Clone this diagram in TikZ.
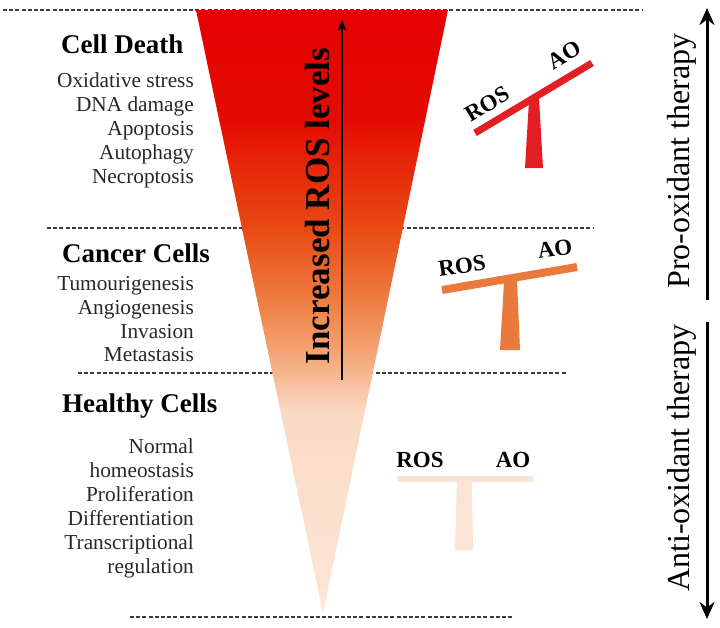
\documentclass[tikz,border=0pt]{standalone}
\usepackage{fontspec}
\setmainfont{Liberation Serif}
\usetikzlibrary{arrows.meta}
\definecolor{tri0}{RGB}{228,0,0}
\definecolor{tri1}{RGB}{228,12,2}
\definecolor{tri2}{RGB}{232,75,20}
\definecolor{tri3}{RGB}{238,125,65}
\definecolor{tri4}{RGB}{244,170,125}
\definecolor{tri5}{RGB}{251,218,196}
\definecolor{tri6}{RGB}{252,230,215}
\definecolor{sred}{RGB}{227,30,36}
\definecolor{sorange}{RGB}{233,122,60}
\definecolor{spale}{RGB}{251,228,213}
\definecolor{dashc}{RGB}{60,60,60}
\definecolor{txt}{RGB}{40,40,40}
\tikzset{
  dashline/.style={draw=dashc, line width=1.3pt, dash pattern=on 4pt off 2.2pt},
  head/.style={font=\fontsize{27}{30}\selectfont\bfseries, text=black, inner sep=0pt, anchor=base west},
  item/.style={font=\fontsize{21.3}{24}\selectfont, text=txt, inner sep=0pt, anchor=base east},
  sslabel/.style={font=\fontsize{23}{26}\selectfont\bfseries, text=black, inner sep=0pt},
  sidetext/.style={font=\fontsize{32}{34}\selectfont, text=black, inner sep=0pt, rotate=90},
  bigarrow/.style={line width=3pt, -{Stealth[length=17pt,width=15pt]}},
}
\begin{document}
\begin{tikzpicture}[x=1pt,y=-1pt]
\useasboundingbox (0,0) rectangle (720,627);
% dashed separators
\coordinate (d1a) at (3,10);   \coordinate (d1b) at (642,10);
\coordinate (d2a) at (47,228); \coordinate (d2b) at (593,228);
\coordinate (d3a) at (78,373); \coordinate (d3b) at (567,373);
\coordinate (d4a) at (130,617);\coordinate (d4b) at (513,617);
\draw[dashline] (d1a) -- (d1b);
\draw[dashline] (d2a) -- (d2b);
\draw[dashline] (d3a) -- (d3b);
\draw[dashline] (d4a) -- (d4b);
% triangle
\coordinate (tl) at (196,10);
\coordinate (tr) at (448,10);
\coordinate (ap) at (323,613);
\begin{scope}
\clip (tl) -- (tr) -- (ap) -- cycle;
\shade[top color=tri0, bottom color=tri1] (180,9) rectangle (460,120.5);
\shade[top color=tri1, bottom color=tri2] (180,120) rectangle (460,230.5);
\shade[top color=tri2, bottom color=tri3] (180,230) rectangle (460,300.5);
\shade[top color=tri3, bottom color=tri4] (180,300) rectangle (460,360.5);
\shade[top color=tri4, bottom color=tri5] (180,360) rectangle (460,412.5);
\shade[top color=tri5, bottom color=tri6] (180,412) rectangle (460,615);
\end{scope}
% increased ROS arrow and label
\coordinate (rb) at (342,380);
\coordinate (rt) at (342,20);
\draw[line width=2pt, -{Stealth[length=11pt,width=9pt]}] (rb) -- (rt);
\node[font=\fontsize{35}{38}\selectfont\bfseries, rotate=90, inner sep=0pt] (ros) at (318,206) {Increased ROS levels};
% left texts
\node[head] (cd) at (61,53) {Cell Death};
\node[item] (i1) at (194,87) {Oxidative stress};
\node[item] (i2) at (194,111) {DNA damage};
\node[item] (i3) at (194,135) {Apoptosis};
\node[item] (i4) at (194,159) {Autophagy};
\node[item] (i5) at (194,183) {Necroptosis};
\node[head] (cc) at (62,262) {Cancer Cells};
\node[item] (j1) at (194,290) {Tumourigenesis};
\node[item] (j2) at (194,314) {Angiogenesis};
\node[item] (j3) at (194,338) {Invasion};
\node[item] (j4) at (194,361) {Metastasis};
\node[head] (hc) at (62,412) {Healthy Cells};
\node[item] (k1) at (194,453) {Normal};
\node[item] (k2) at (194,477) {homeostasis};
\node[item] (k3) at (194,501) {Proliferation};
\node[item] (k4) at (194,525) {Differentiation};
\node[item] (k5) at (194,549) {Transcriptional};
\node[item] (k6) at (194,573) {regulation};
% seesaw 1 (red)
\fill[sred] (529,100) -- (539,98) -- (543,168) -- (525,168) -- cycle;
\coordinate (b1a) at (475,133); \coordinate (b1b) at (592,63);
\draw[sred, line width=7pt] (b1a) -- (b1b);
\node[sslabel, rotate=31] (r1) at (487,104) {ROS};
\node[sslabel, rotate=31] (a1) at (564,55) {AO};
% seesaw 2 (orange)
\fill[sorange] (504,282) -- (517,280) -- (520,350) -- (500,350) -- cycle;
\coordinate (b2a) at (442,290); \coordinate (b2b) at (577,267);
\draw[sorange, line width=8pt] (b2a) -- (b2b);
\node[sslabel, rotate=8] (r2) at (462,266) {ROS};
\node[sslabel, rotate=8] (a2) at (555,249) {AO};
% seesaw 3 (pale)
\fill[spale] (457,479) -- (472,479) -- (473,550) -- (455,550) -- cycle;
\coordinate (b3a) at (397,479); \coordinate (b3b) at (533,479);
\draw[spale, line width=6pt] (b3a) -- (b3b);
\node[sslabel] (r3) at (420,460) {ROS};
\node[sslabel] (a3) at (513,460) {AO};
% right side therapy arrows
\coordinate (pb) at (707,300); \coordinate (pt) at (707,8);
\coordinate (ab) at (707,322); \coordinate (at2) at (707,619);
\draw[bigarrow] (pb) -- (pt);
\draw[bigarrow] (ab) -- (at2);
\node[sidetext] (pro) at (682,161) {Pro-oxidant therapy};
\node[sidetext] (anti) at (682,458) {Anti-oxidant therapy};
\end{tikzpicture}
\end{document}
